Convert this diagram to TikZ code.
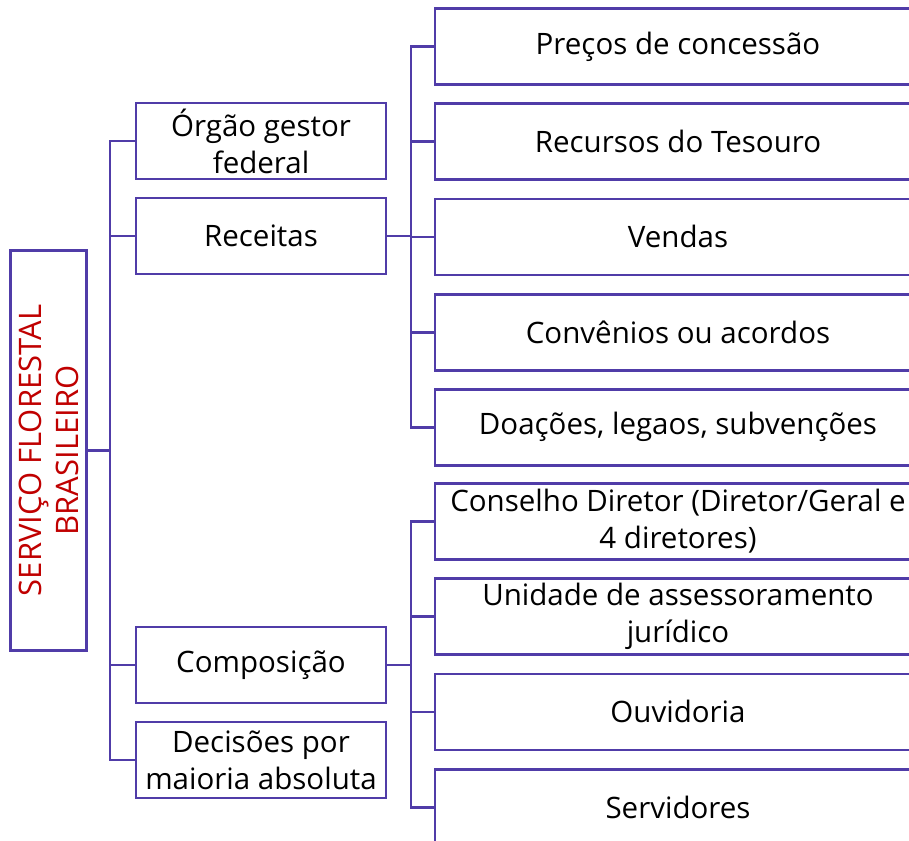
\documentclass[tikz,border=0pt]{standalone}
\usepackage{fontspec}
\setmainfont{Open Sans}
\definecolor{linha}{RGB}{80,60,168}
\definecolor{titulo}{RGB}{192,0,0}
\tikzset{
  caixa/.style={draw=linha, line width=2.8pt, fill=white, minimum width=250pt,
    minimum height=76pt, align=center, inner sep=0pt,
    font=\fontsize{29.5}{37}\selectfont},
  caixalarga/.style={caixa, minimum width=486pt},
  ramo/.style={draw=linha, line width=2.8pt, line cap=rect},
}
\begin{document}
\begin{tikzpicture}[x=1pt,y=1pt]
  \useasboundingbox (0,0) rectangle (909,-840);
  \clip (0,0) rectangle (909,-840);
  % Root box
  \node[caixa, rotate=90, minimum width=400pt, minimum height=76pt, text=titulo,
    font=\fontsize{31}{37}\selectfont] (sfb) at (48.5,-450.5) {SERVIÇO FLORESTAL\\BRASILEIRO};
  % First level
  \node[caixa] (orgao) at (261,-141) {Órgão gestor\\federal};
  \node[caixa] (receitas) at (261,-236) {Receitas};
  \node[caixa] (composicao) at (261,-665) {Composição};
  \node[caixa] (decisoes) at (261,-760) {Decisões por\\maioria absoluta};
  % Revenue sources
  \foreach \nome/\texto [count=\i from 0] in {precos/Preços de concessão,
      tesouro/Recursos do Tesouro, vendas/Vendas, convenios/Convênios ou acordos,
      doacoes/{Doações, legaos, subvenções}}
    \node[caixalarga] (\nome) at (678,-46.5-95.2*\i) {\texto};
  % Composition members
  \foreach \nome/\texto [count=\i from 0] in {conselho/{Conselho Diretor (Diretor/Geral e\\4 diretores)},
      unidade/{Unidade de assessoramento\\jurídico}, ouvidoria/Ouvidoria, servidores/Servidores}
    \node[caixalarga] (\nome) at (678,-521.5-95.2*\i) {\texto};
  % Trunk from the root
  \coordinate (troncoA) at (110,-450.5);
  \draw[ramo] (sfb.south) -- (troncoA);
  \draw[ramo] (troncoA |- orgao.west) -- (troncoA |- decisoes.west);
  \foreach \n in {orgao,receitas,composicao,decisoes}
    \draw[ramo] (troncoA |- \n.west) -- (\n.west);
  % Trunk from Receitas
  \coordinate (troncoB) at (411,-236);
  \draw[ramo] (receitas.east) -- (troncoB);
  \draw[ramo] (troncoB |- precos.west) -- (troncoB |- doacoes.west);
  \foreach \n in {precos,tesouro,vendas,convenios,doacoes}
    \draw[ramo] (troncoB |- \n.west) -- (\n.west);
  % Trunk from Composicao
  \coordinate (troncoC) at (411,-665);
  \draw[ramo] (composicao.east) -- (troncoC);
  \draw[ramo] (troncoC |- conselho.west) -- (troncoC |- servidores.west);
  \foreach \n in {conselho,unidade,ouvidoria,servidores}
    \draw[ramo] (troncoC |- \n.west) -- (\n.west);
\end{tikzpicture}
\end{document}
